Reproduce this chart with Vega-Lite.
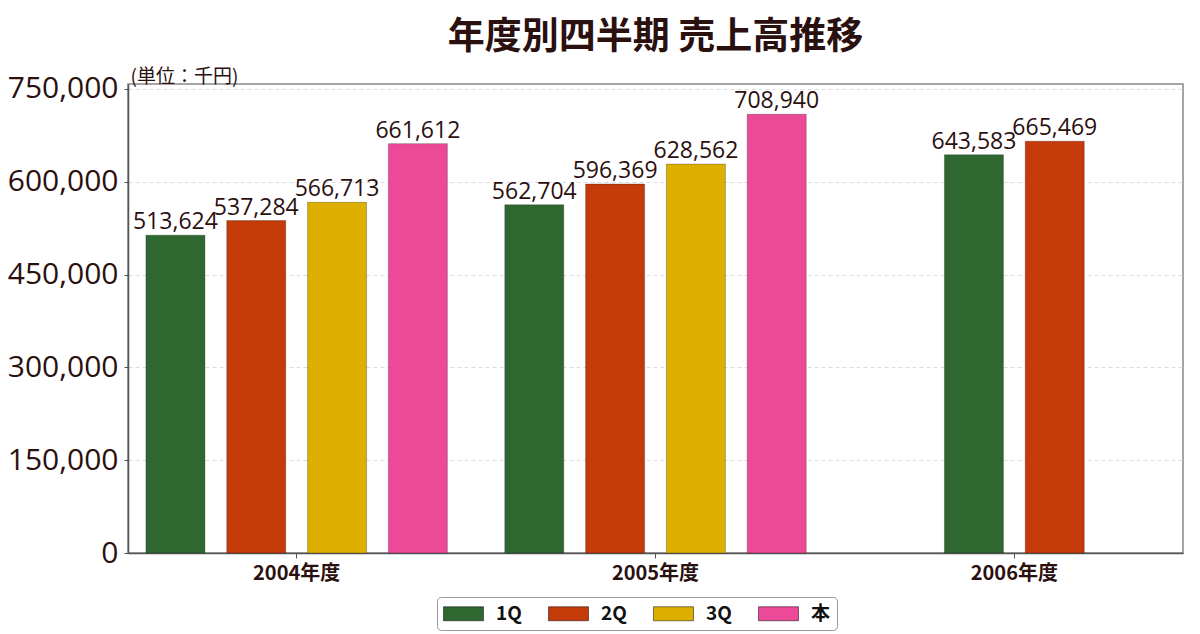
{
  "$schema": "https://vega.github.io/schema/vega-lite/v6.json",
  "description": "年度別四半期 売上高推移 (grouped bars)",
  "width": 1055,
  "height": 469,
  "autosize": "none",
  "padding": {"left": 128, "top": 84, "right": 17, "bottom": 81},
  "background": "white",
  "title": {
    "text": "年度別四半期 売上高推移",
    "font": "Noto Sans CJK JP",
    "fontSize": 37,
    "fontWeight": "bold",
    "color": "#2b1010",
    "anchor": "middle",
    "frame": "group",
    "offset": 10
  },
  "config": {
    "view": {"stroke": "#888", "strokeWidth": 1.5},
    "axis": {"labelColor": "#2b1010", "domainColor": "#555", "tickColor": "#555", "domainWidth": 1.5}
  },
  "data": {
    "values": [
      {"year": "2004年度", "quarter": "1Q", "sales": 513624},
      {"year": "2004年度", "quarter": "2Q", "sales": 537284},
      {"year": "2004年度", "quarter": "3Q", "sales": 566713},
      {"year": "2004年度", "quarter": "本", "sales": 661612},
      {"year": "2005年度", "quarter": "1Q", "sales": 562704},
      {"year": "2005年度", "quarter": "2Q", "sales": 596369},
      {"year": "2005年度", "quarter": "3Q", "sales": 628562},
      {"year": "2005年度", "quarter": "本", "sales": 708940},
      {"year": "2006年度", "quarter": "1Q", "sales": 643583},
      {"year": "2006年度", "quarter": "2Q", "sales": 665469}
    ]
  },
  "encoding": {
    "x": {
      "field": "year",
      "type": "nominal",
      "sort": null,
      "scale": {"paddingInner": 0.16, "paddingOuter": 0.05},
      "axis": {
        "title": null,
        "labelAngle": 0,
        "labelFont": "Noto Sans CJK JP",
        "labelFontSize": 20,
        "labelFontWeight": "bold",
        "labelPadding": 5,
        "tickSize": 5
      }
    },
    "y": {
      "field": "sales",
      "type": "quantitative",
      "scale": {"domain": [0, 758000], "nice": false},
      "axis": {
        "values": [0, 150000, 300000, 450000, 600000, 750000],
        "format": ",d",
        "labelFont": "Open Sans",
        "labelFontSize": 30,
        "labelPadding": 6,
        "tickSize": 4,
        "grid": true,
        "gridColor": "#dddddd",
        "gridDash": [4, 3],
        "title": "(単位：千円)",
        "titleFont": "Noto Sans CJK JP",
        "titleFontSize": 19,
        "titleFontWeight": "normal",
        "titleColor": "#2b1010",
        "titleAngle": 0,
        "titleAlign": "left",
        "titleBaseline": "bottom",
        "titleX": 2,
        "titleY": 2
      }
    }
  },
  "layer": [
    {
      "transform": [{"filter": "datum.year !== '2006年度'"}],
      "encoding": {
        "xOffset": {
          "field": "quarter",
          "type": "nominal",
          "scale": {"domain": ["1Q", "2Q", "3Q", "本"], "paddingInner": 0.27}
        }
      },
      "layer": [
        {
          "mark": {"type": "bar", "stroke": "#000", "strokeOpacity": 0.25, "strokeWidth": 1},
          "encoding": {
            "color": {
              "field": "quarter",
              "type": "nominal",
              "scale": {"domain": ["1Q", "2Q", "3Q", "本"], "range": ["#2e6830", "#c43a08", "#ddb000", "#ec4a98"]},
              "legend": {
                "title": null,
                "orient": "none",
                "direction": "horizontal",
                "legendX": 309,
                "legendY": 513,
                "symbolType": "M-1,-0.7L3,-0.7L3,0.7L-1,0.7Z",
                "symbolSize": 400,
                "symbolStrokeColor": "#555",
                "symbolStrokeWidth": 0.5,
                "symbolOpacity": 1,
                "labelFont": "Noto Sans CJK JP",
                "labelFontSize": 19,
                "labelFontWeight": "bold",
                "labelColor": "#111",
                "labelOffset": 32,
                "columnPadding": 25,
                "padding": 6,
                "strokeColor": "#999",
                "fillColor": "white",
                "cornerRadius": 4
              }
            }
          }
        },
        {
          "mark": {
            "type": "text",
            "baseline": "bottom",
            "dy": -1,
            "font": "Open Sans",
            "fontSize": 23,
            "color": "#2b1010"
          },
          "encoding": {"text": {"field": "sales", "type": "quantitative", "format": ","}}
        }
      ]
    },
    {
      "transform": [{"filter": "datum.year === '2006年度'"}],
      "encoding": {
        "xOffset": {
          "field": "quarter",
          "type": "nominal",
          "scale": {"domain": ["_a", "1Q", "2Q", "_b"], "paddingInner": 0.27}
        }
      },
      "layer": [
        {
          "mark": {"type": "bar", "stroke": "#000", "strokeOpacity": 0.25, "strokeWidth": 1},
          "encoding": {
            "color": {"field": "quarter", "type": "nominal"}
          }
        },
        {
          "mark": {
            "type": "text",
            "baseline": "bottom",
            "dy": -1,
            "font": "Open Sans",
            "fontSize": 23,
            "color": "#2b1010"
          },
          "encoding": {"text": {"field": "sales", "type": "quantitative", "format": ","}}
        }
      ]
    }
  ],
  "resolve": {"scale": {"xOffset": "independent"}}
}
